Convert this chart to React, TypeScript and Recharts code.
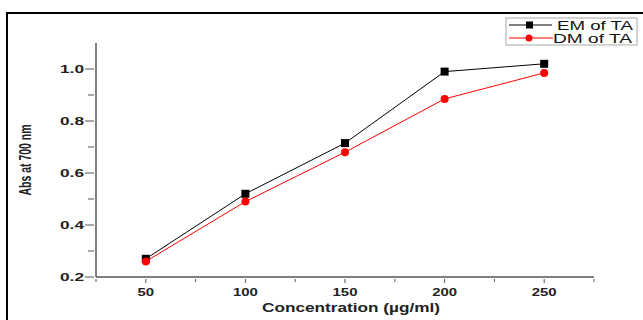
import React from 'react';
import { LineChart, Line, XAxis, YAxis } from 'recharts';

const concentrations = [50, 100, 150, 200, 250];
const emValues = [0.27, 0.52, 0.715, 0.99, 1.02];
const dmValues = [0.26, 0.49, 0.68, 0.885, 0.985];

const xTicks = [25, 50, 75, 100, 125, 150, 175, 200, 225, 250, 275];
const xLabels = [50, 100, 150, 200, 250];
const yTicks = [0.2, 0.3, 0.4, 0.5, 0.6, 0.7, 0.8, 0.9, 1.0];
const yLabels = [0.2, 0.4, 0.6, 0.8, 1.0];

const data = concentrations.map((c, i) => ({ c, em: emValues[i], dm: dmValues[i] }));

const AXIS = '#555';
const FONT = '"Liberation Sans", Arial, sans-serif';

const XTick = ({ x, y, payload }: any) => {
  const major = xLabels.includes(payload.value);
  const label = String(payload.value);
  return (
    <g>
      <line x1={x} x2={x} y1={y - 6} y2={y - 6 + (major ? 4 : 3)} stroke={AXIS} strokeWidth={1} />
      {major && (
        <text
          x={x}
          y={y + 11}
          textAnchor="middle"
          fontFamily={FONT}
          fontWeight="bold"
          fontSize={11}
          textLength={label.length * 8.3}
          lengthAdjust="spacingAndGlyphs"
          fill="#222"
        >
          {label}
        </text>
      )}
    </g>
  );
};

const YTick = ({ x, y, payload }: any) => {
  const major = yLabels.some((v) => Math.abs(v - payload.value) < 1e-6);
  return (
    <g>
      <line x1={x + 6} x2={x + 6 - (major ? 9 : 6)} y1={y} y2={y} stroke={AXIS} strokeWidth={1} />
      {major && (
        <text
          x={x - 16}
          y={y + 4}
          textAnchor="middle"
          fontFamily={FONT}
          fontWeight="bold"
          fontSize={10.5}
          textLength={24}
          lengthAdjust="spacingAndGlyphs"
          fill="#222"
        >
          {payload.value.toFixed(1)}
        </text>
      )}
    </g>
  );
};

const Square = ({ cx, cy }: any) => <rect x={cx - 4} y={cy - 4} width={8} height={8} fill="#000" />;
const Dot = ({ cx, cy }: any) => <circle cx={cx} cy={cy} r={4} fill="#ff0000" />;

export default function App() {
  return (
    <div style={{ position: 'absolute', left: 0, top: 0, width: 643, height: 320, background: '#fff', overflow: 'hidden' }}>
      <div style={{ position: 'absolute', left: 6, top: 12, width: 650, height: 320, borderLeft: '2px solid #000', borderTop: '2px solid #000' }} />
      <LineChart width={643} height={320} data={data} margin={{ top: 43, right: 49, bottom: 13, left: 36 }}>
        <XAxis
          type="number"
          dataKey="c"
          domain={[25, 275]}
          ticks={xTicks}
          interval={0}
          tick={<XTick />}
          tickLine={false}
          axisLine={{ stroke: AXIS, strokeWidth: 1.5 }}
          height={30}
        />
        <YAxis
          type="number"
          domain={[0.2, 1.1]}
          ticks={yTicks}
          interval={0}
          tick={<YTick />}
          tickLine={false}
          axisLine={{ stroke: AXIS, strokeWidth: 1.5 }}
          width={60}
        />
        <Line dataKey="em" stroke="#000" strokeWidth={1} dot={<Square />} isAnimationActive={false} />
        <Line dataKey="dm" stroke="#ff0000" strokeWidth={1} dot={<Dot />} isAnimationActive={false} />
        <text
          x={351}
          y={312}
          textAnchor="middle"
          fontFamily={FONT}
          fontWeight="bold"
          fontSize={12.5}
          textLength={178}
          lengthAdjust="spacingAndGlyphs"
          fill="#222"
        >
          Concentration (µg/ml)
        </text>
        <text
          x={31}
          y={160}
          textAnchor="middle"
          transform="rotate(-90 31 160)"
          fontFamily={FONT}
          fontWeight="bold"
          fontSize={16}
          textLength={71}
          lengthAdjust="spacingAndGlyphs"
          fill="#222"
        >
          Abs at 700 nm
        </text>
        <g>
          <rect x={506} y={18} width={131} height={27} fill="#fff" stroke="#aaa" strokeWidth={1} />
          <line x1={509} x2={552} y1={25} y2={25} stroke="#000" strokeWidth={1} />
          <rect x={526} y={21.5} width={7} height={7} fill="#000" />
          <text x={557} y={29.5} fontFamily={FONT} fontSize={12} textLength={76} lengthAdjust="spacingAndGlyphs" fill="#111">
            EM of TA
          </text>
          <line x1={509} x2={553} y1={38} y2={38} stroke="#ff0000" strokeWidth={1} />
          <circle cx={529} cy={38} r={3.5} fill="#ff0000" />
          <text x={553} y={42.5} fontFamily={FONT} fontSize={12} textLength={79} lengthAdjust="spacingAndGlyphs" fill="#111">
            DM of TA
          </text>
        </g>
      </LineChart>
    </div>
  );
}
